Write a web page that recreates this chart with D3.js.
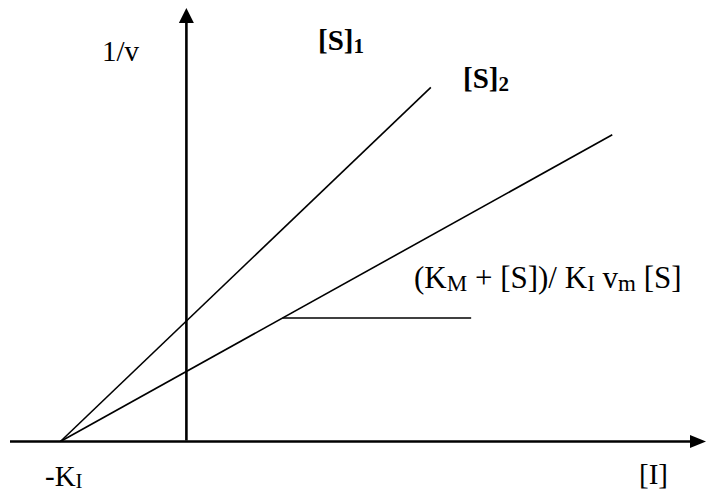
<!DOCTYPE html>
<html>
<head>
<meta charset="utf-8">
<script src="https://cdn.jsdelivr.net/npm/d3@7"></script>
<style>
  html, body { margin: 0; padding: 0; background: #fff; }
  svg { display: block; }
  text { font-family: "Liberation Serif", "Times New Roman", serif; fill: #000; }
</style>
</head>
<body>
<svg id="chart" width="717" height="493"></svg>
<script>
// Dixon plot: 1/v against inhibitor concentration [I] for two substrate levels
const Ki = 1;                         // lines meet the [I] axis at -K_I
const seriesNames = ["[S]1", "[S]2"];
const intercepts = [1.72, 1.0];       // 1/v at [I] = 0 for each substrate level
const lineEnds = [1.94, 3.38];        // last [I] drawn for each line
const xDomain = [-1.4, 4.1];          // [I] axis extent
const yDomain = [0, 6.19];            // 1/v axis extent
const slopeMark = { y: 1.764, xEnd: 2.26 };   // horizontal guide off the [S]2 line

const svg = d3.select("#chart");

const x = d3.scaleLinear().domain(xDomain).range([10, 703]);
const y = d3.scaleLinear().domain(yDomain).range([441.5, 8]);

const line = d3.line().x(d => x(d[0])).y(d => y(d[1]));

// data lines: 1/v = b (1 + [I]/K_I)
intercepts.forEach((b, i) => {
  const pts = [-Ki, lineEnds[i]].map(v => [v, b * (1 + v / Ki)]);
  svg.append("path")
    .attr("d", line(pts))
    .attr("fill", "none")
    .attr("stroke", "#000")
    .attr("stroke-width", 1.6);
});

// horizontal marker for the slope annotation
const xStart = slopeMark.y / intercepts[1] * Ki - Ki;
svg.append("path")
  .attr("d", line([[xStart, slopeMark.y], [slopeMark.xEnd, slopeMark.y]]))
  .attr("fill", "none")
  .attr("stroke", "#000")
  .attr("stroke-width", 1.6);

// axes with arrowheads
const x0 = x(0), y0 = y(0);
svg.append("line")
  .attr("x1", x(xDomain[0])).attr("x2", x(xDomain[1]) - 6)
  .attr("y1", y0).attr("y2", y0)
  .attr("stroke", "#000").attr("stroke-width", 2.6);
svg.append("path")
  .attr("d", `M${x(xDomain[1]) + 3},${y0} L${x(xDomain[1]) - 13},${y0 - 6.5} L${x(xDomain[1]) - 13},${y0 + 6.5} Z`)
  .attr("fill", "#000");

svg.append("line")
  .attr("x1", x0).attr("x2", x0)
  .attr("y1", y0 - 1).attr("y2", y(yDomain[1]) + 12)
  .attr("stroke", "#000").attr("stroke-width", 2.6);
svg.append("path")
  .attr("d", `M${x0},${y(yDomain[1])} L${x0 - 7.5},${y(yDomain[1]) + 15} L${x0 + 7.5},${y(yDomain[1]) + 15} Z`)
  .attr("fill", "#000");

// labels
function label(px, py, parts, opts = {}) {
  const t = svg.append("text")
    .attr("x", px).attr("y", py)
    .attr("font-size", opts.size || 29)
    .attr("font-weight", opts.bold ? "bold" : "normal");
  const shift = opts.shift || 3;
  parts.forEach(p => {
    const sp = t.append("tspan").text(p.t);
    if (p.sub) {
      sp.attr("font-size", opts.subSize || 21).attr("dy", shift);
    } else if (p.after) {
      sp.attr("dy", -shift);
    }
  });
  return t;
}

label(102, 61, [{ t: "1/v" }]);
label(318, 50, [{ t: "[S]" }, { t: "1", sub: true }], { bold: true, size: 29, subSize: 21 });
label(463, 88, [{ t: "[S]" }, { t: "2", sub: true }], { bold: true, size: 29, subSize: 21 });
label(414, 288, [
  { t: "(K" }, { t: "M", sub: true }, { t: " + [S])/ K", after: true },
  { t: "I", sub: true }, { t: " v", after: true }, { t: "m", sub: true },
  { t: " [S]", after: true }
], { size: 31, subSize: 23 });
label(45, 486, [{ t: "-K" }, { t: "I", sub: true }], { shift: 2 });
label(639, 484, [{ t: "[I]" }]);
</script>
</body>
</html>
